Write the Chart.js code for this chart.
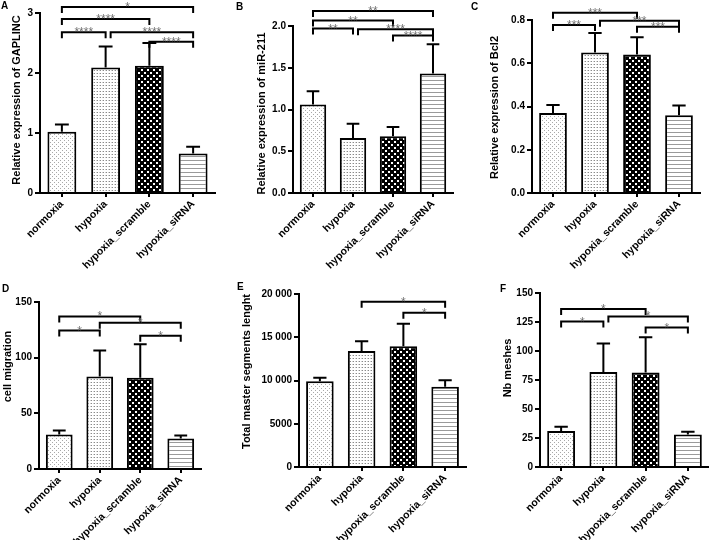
<!DOCTYPE html>
<html><head><meta charset="utf-8">
<script src="https://cdn.jsdelivr.net/npm/chart.js@4.4.0/dist/chart.umd.min.js"></script>
<style>
html,body{margin:0;padding:0;background:#fff;}
body{width:709px;height:540px;position:relative;overflow:hidden;font-family:"Liberation Sans",Arial,sans-serif;}
canvas{position:absolute;}
.lbl{position:absolute;font:bold 10px "Liberation Sans",Arial,sans-serif;color:#000;line-height:10px;}
</style></head><body>
<canvas id="cA" width="235" height="270" style="left:0;top:0"></canvas>
<canvas id="cB" width="235" height="270" style="left:235px;top:0"></canvas>
<canvas id="cC" width="239" height="270" style="left:470px;top:0"></canvas>
<canvas id="cD" width="235" height="270" style="left:0;top:270px"></canvas>
<canvas id="cE" width="235" height="270" style="left:235px;top:270px"></canvas>
<canvas id="cF" width="239" height="270" style="left:470px;top:270px"></canvas>
<div class="lbl" style="left:1px;top:1px">A</div>
<div class="lbl" style="left:236px;top:2px">B</div>
<div class="lbl" style="left:471px;top:2px">C</div>
<div class="lbl" style="left:2px;top:284px">D</div>
<div class="lbl" style="left:237px;top:282px">E</div>
<div class="lbl" style="left:500px;top:284px">F</div>
<script>
// ---------- data ----------
const categories = ['normoxia', 'hypoxia', 'hypoxia_scramble', 'hypoxia_siRNA'];

const gaplincMean = [1.02, 2.09, 2.12, 0.66];
const gaplincSD   = [0.12, 0.35, 0.38, 0.11];
const gaplincSig  = [[0, 1, 2.68, '****'], [0, 2, 2.90, '****'], [0, 3, 3.10, '*'], [1, 3, 2.68, '****'], [2, 3, 2.52, '****']];
const gaplincTicks = [0, 1, 2, 3];

const mir211Mean = [1.06, 0.66, 0.68, 1.43];
const mir211SD   = [0.16, 0.17, 0.11, 0.35];
const mir211Sig  = [[0, 1, 1.97, '**'], [0, 2, 2.065, '**'], [0, 3, 2.18, '**'], [1, 3, 1.96, '****'], [2, 3, 1.885, '****']];
const mir211Ticks = [0, 0.5, 1.0, 1.5, 2.0];

const bcl2Mean = [0.37, 0.65, 0.64, 0.36];
const bcl2SD   = [0.037, 0.09, 0.08, 0.045];
const bcl2Sig  = [[0, 1, 0.777, '***'], [0, 2, 0.833, '***'], [1, 3, 0.797, '***'], [2, 3, 0.769, '***']];
const bcl2Ticks = [0, 0.2, 0.4, 0.6, 0.8];

const migrationMean = [31, 83, 82, 27.5];
const migrationSD   = [3.5, 23.5, 30, 2.5];
const migrationSig  = [[0, 1, 124.4, '*'], [0, 2, 137, '*'], [1, 3, 131.3, '*'], [2, 3, 119.7, '*']];
const migrationTicks = [0, 50, 100, 150];

const segmentsMean = [9900, 13400, 13950, 9270];
const segmentsSD   = [420, 1150, 2600, 770];
const segmentsSig  = [[1, 3, 19100, '*'], [2, 3, 17830, '*']];
const segmentsTicks = [0, 5000, 10000, 15000, 20000];

const meshesMean = [31, 82, 81.5, 28];
const meshesSD   = [3.6, 24.5, 30.3, 2.3];
const meshesSig  = [[0, 1, 125.4, '*'], [0, 2, 136.2, '*'], [1, 3, 129.8, '*'], [2, 3, 120.2, '*']];
const meshesTicks = [0, 25, 50, 75, 100, 125, 150];

// ---------- styles ----------
const FONT = '"Liberation Sans", Arial, sans-serif';
function makePattern(w, h, draw) {
  const c = document.createElement('canvas'); c.width = w; c.height = h;
  const x = c.getContext('2d'); draw(x); return x.createPattern(c, 'repeat');
}
const patNormoxia = makePattern(4, 4, x => { x.fillStyle = '#fff'; x.fillRect(0,0,4,4); x.fillStyle = '#a8a8a8'; x.fillRect(0,0,1,1); x.fillRect(2,2,1,1); });
const patHypoxia = makePattern(3, 3, x => { x.fillStyle = '#fff'; x.fillRect(0,0,3,3); x.fillStyle = '#8a8a8a'; x.fillRect(1,1,1,1); x.fillStyle='#d0d0d0'; x.fillRect(0,1,1,1); });
const patScramble = makePattern(6, 6, x => { x.fillStyle = '#000'; x.fillRect(0,0,6,6); x.fillStyle = '#fff'; x.fillRect(0,0,2,2); x.fillRect(3,3,2,2); });
const patSiRNA = makePattern(4, 4, x => { x.fillStyle = '#fff'; x.fillRect(0,0,4,4); x.fillStyle = '#9a9a9a'; x.fillRect(0,0,4,1); });
const fills = [patNormoxia, patHypoxia, patScramble, patSiRNA];

const errorBars = {
  id: 'errorBars',
  afterDatasetsDraw(chart) {
    const ctx = chart.ctx, ys = chart.scales.y, ds = chart.data.datasets[0];
    const meta = chart.getDatasetMeta(0);
    ctx.save(); ctx.strokeStyle = '#000'; ctx.lineWidth = 2;
    meta.data.forEach((bar, i) => {
      const y1 = ys.getPixelForValue(ds.data[i]);
      const y2 = ys.getPixelForValue(ds.data[i] + ds.sd[i]);
      const cap = bar.width * 0.24;
      ctx.beginPath();
      ctx.moveTo(bar.x, y1); ctx.lineTo(bar.x, y2);
      ctx.moveTo(bar.x - cap, y2); ctx.lineTo(bar.x + cap, y2);
      ctx.stroke();
    });
    ctx.restore();
  }
};

const brackets = {
  id: 'brackets',
  afterDraw(chart) {
    const ctx = chart.ctx, xs = chart.scales.x, ys = chart.scales.y;
    const sig = chart.options.plugins.brackets.list || [];
    ctx.save();
    ctx.lineWidth = 2; ctx.strokeStyle = '#000';
    sig.forEach(([a, b, v, txt]) => {
      const y = ys.getPixelForValue(v);
      let x1 = xs.getPixelForValue(a);
      const x2 = xs.getPixelForValue(b);
      const shared = sig.some(s => s[1] === a && Math.abs(ys.getPixelForValue(s[2]) - y) < 6);
      if (shared) x1 += 5;
      ctx.beginPath();
      ctx.moveTo(x1, y + 6); ctx.lineTo(x1, y); ctx.lineTo(x2, y); ctx.lineTo(x2, y + 6);
      ctx.stroke();
      ctx.fillStyle = '#707070';
      ctx.font = '12px ' + FONT;
      ctx.textAlign = 'center'; ctx.textBaseline = 'alphabetic';
      ctx.fillText(txt, (x1 + x2) / 2, y + 4);
    });
    ctx.restore();
  }
};

// y-axis title drawn next to the library's y scale
const yTitle = {
  id: 'yTitle',
  afterDraw(chart) {
    const o = chart.options.plugins.yTitle;
    const ys = chart.scales.y;
    const ctx = chart.ctx;
    ctx.save();
    ctx.translate(o.x, (ys.top + ys.bottom) / 2 + o.dy);
    ctx.rotate(-Math.PI / 2);
    ctx.fillStyle = '#000';
    ctx.font = 'bold 11px ' + FONT;
    ctx.textAlign = 'center'; ctx.textBaseline = 'middle';
    ctx.fillText(o.text, 0, 0);
    ctx.restore();
  }
};

function build(id, mean, sd, sig, ticks, title, fmt, lay) {
  new Chart(document.getElementById(id), {
    type: 'bar',
    data: { labels: categories, datasets: [{ data: mean, sd: sd, backgroundColor: fills, borderColor: '#000', borderWidth: 2, borderSkipped: 'start', barPercentage: 0.66, categoryPercentage: 1 }] },
    options: {
      responsive: false, animation: false, devicePixelRatio: 1,
      layout: { padding: { left: 0, top: lay.top, right: lay.right, bottom: 0 } },
      plugins: { legend: { display: false }, tooltip: { enabled: false }, brackets: { list: sig }, yTitle: { text: title, x: lay.tx, dy: lay.tdy } },
      scales: {
        x: {
          type: 'category', offset: true,
          ticks: { maxRotation: 45, minRotation: 45, autoSkip: false, padding: 1, color: '#000', font: { family: FONT, size: 10.5, weight: 'bold' } },
          grid: { display: true, offset: false, drawOnChartArea: false, drawTicks: true, tickLength: 4, lineWidth: 2, color: '#000' },
          border: { display: true, width: 2, color: '#000' },
          afterFit(s) { s.height = lay.xH; s.paddingLeft = 0; s.paddingRight = 0; }
        },
        y: {
          min: ticks[0], max: ticks[ticks.length - 1],
          afterBuildTicks(s) { s.ticks = ticks.map(v => ({ value: v })); },
          ticks: { callback: fmt, padding: 2, color: '#000', font: { family: FONT, size: 10, weight: 'bold' } },
          grid: { display: true, drawOnChartArea: false, drawTicks: true, tickLength: 5, lineWidth: 2, color: '#000' },
          border: { display: true, width: 2, color: '#000' },
          title: { display: false },
          afterFit(s) { s.width = lay.yW; s.paddingTop = 0; s.paddingBottom = 0; }
        }
      }
    },
    plugins: [errorBars, brackets, yTitle]
  });
}

const plain = v => String(v);
const oneDec = v => Number(v).toFixed(1);
const thousands = v => v >= 10000 ? String(v).replace(/\B(?=(\d{3})+(?!\d))/g, ' ') : String(v);

build('cA', gaplincMean, gaplincSD, gaplincSig, gaplincTicks, 'Relative expression of GAPLINC', plain, { top: 13, right: 20, yW: 40, xH: 77, tx: 16.5, tdy: -3 });
build('cB', mir211Mean, mir211SD, mir211Sig, mir211Ticks, 'Relative expression of miR-211', oneDec, { top: 26, right: 17, yW: 58, xH: 77, tx: 26.5, tdy: 4 });
build('cC', bcl2Mean, bcl2SD, bcl2Sig, bcl2Ticks, 'Relative expression of Bcl2', oneDec, { top: 20, right: 9, yW: 62, xH: 77, tx: 25, tdy: 1 });
build('cD', migrationMean, migrationSD, migrationSig, migrationTicks, 'cell migration', plain, { top: 32, right: 34, yW: 39, xH: 71, tx: 8, tdy: -19 });
build('cE', segmentsMean, segmentsSD, segmentsSig, segmentsTicks, 'Total master segments lenght', thousands, { top: 24, right: 4, yW: 64, xH: 73, tx: 12, tdy: -9 });
build('cF', meshesMean, meshesSD, meshesSig, meshesTicks, 'Nb meshes', plain, { top: 23, right: 0, yW: 70, xH: 73, tx: 37.5, tdy: -12 });
</script>
</body></html>
